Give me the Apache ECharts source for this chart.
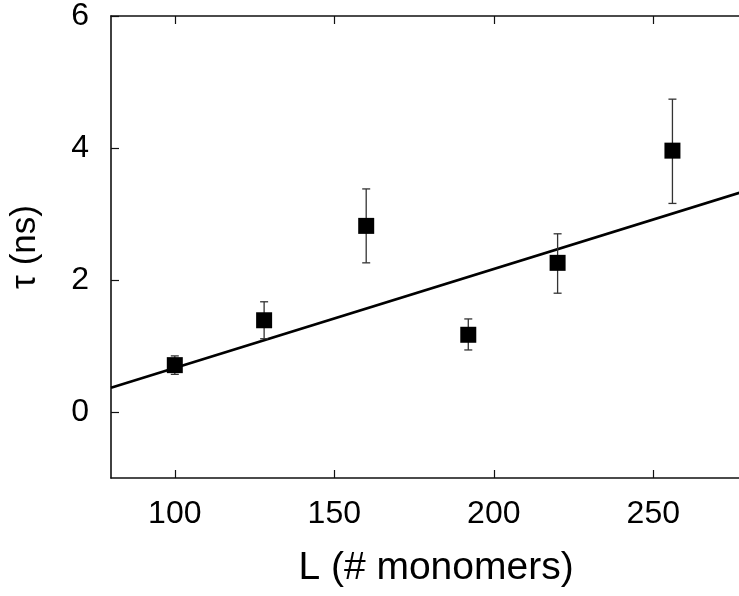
<!DOCTYPE html>
<html>
<head>
<meta charset="utf-8">
<script src="https://cdn.jsdelivr.net/npm/echarts@6/dist/echarts.min.js"></script>
<style>
html,body{margin:0;padding:0;background:#fff;overflow:hidden;width:739px;height:596px;}
#chart{width:749px;height:596px;}
</style>
</head>
<body>
<div id="chart"></div>
<script>
// Data
const L = [100, 128, 160, 192, 220, 256];
const tau = [0.71, 1.39, 2.82, 1.17, 2.26, 3.96];
const tauLow = [0.57, 1.11, 2.26, 0.94, 1.80, 3.16];
const tauHigh = [0.85, 1.67, 3.38, 1.41, 2.70, 4.74];
const fitL = [80, 280];
const fitTau = [0.366, 3.366];
const xTicks = [100, 150, 200, 250];
const yTicks = [0, 2, 4, 6];

const FONT = '"Liberation Sans", Arial, Helvetica, sans-serif';
const AX = '#111';

const points = L.map((x, i) => [x, tau[i]]);
const errs = L.map((x, i) => [x, tauLow[i], tauHigh[i]]);
const fit = fitL.map((x, i) => [x, fitTau[i]]);

const chart = echarts.init(document.getElementById('chart'), null, {renderer: 'canvas'});

function xAxisCfg(pos, showLabel) {
  return {
    type: 'value', position: pos, min: 80, max: 280,
    name: showLabel ? 'L (# monomers)' : '',
    nameLocation: 'middle', nameGap: 71,
    nameTextStyle: {fontFamily: FONT, fontSize: 39, color: '#000', padding: [0, 0, 0, 12]},
    axisLine: {show: true, onZero: false, lineStyle: {color: AX, width: 1.6}},
    axisTick: {show: true, inside: true, length: 8, customValues: xTicks, lineStyle: {color: AX, width: 1.2}},
    axisLabel: {show: showLabel, customValues: xTicks, margin: 20, fontFamily: FONT, fontSize: 32, color: '#000'},
    splitLine: {show: false}
  };
}
function yAxisCfg(pos, showLabel) {
  return {
    type: 'value', position: pos, min: -1, max: 6,
    name: showLabel ? 'τ (ns)' : '',
    nameLocation: 'middle', nameGap: 68, nameRotate: 90,
    nameTextStyle: {fontFamily: FONT, fontSize: 35, color: '#000'},
    axisLine: {show: true, onZero: false, lineStyle: {color: AX, width: 1.6}},
    axisTick: {show: true, inside: true, length: 8, customValues: yTicks, lineStyle: {color: AX, width: 1.2}},
    axisLabel: {show: showLabel, customValues: yTicks, margin: 22, fontFamily: FONT, fontSize: 32, color: '#000'},
    splitLine: {show: false}
  };
}

chart.setOption({
  animation: false,
  backgroundColor: '#fff',
  grid: {left: 109, top: 16, right: 0, bottom: 118, containLabel: false},
  xAxis: [xAxisCfg('bottom', true), xAxisCfg('top', false)],
  yAxis: [yAxisCfg('left', true), yAxisCfg('right', false)],
  series: [
    {
      type: 'line', data: fit, showSymbol: false, symbol: 'none',
      lineStyle: {color: '#000', width: 2.6}, z: 2, clip: true
    },
    {
      type: 'custom', z: 3, clip: true,
      data: errs,
      renderItem: function (params, api) {
        const x = api.value(0);
        const lo = api.coord([x, api.value(1)]);
        const hi = api.coord([x, api.value(2)]);
        const cap = 4;
        const style = {stroke: '#333', lineWidth: 1.3, fill: null};
        return {
          type: 'group',
          children: [
            {type: 'line', shape: {x1: lo[0], y1: lo[1], x2: hi[0], y2: hi[1]}, style: style},
            {type: 'line', shape: {x1: lo[0] - cap, y1: lo[1], x2: lo[0] + cap, y2: lo[1]}, style: style},
            {type: 'line', shape: {x1: hi[0] - cap, y1: hi[1], x2: hi[0] + cap, y2: hi[1]}, style: style}
          ]
        };
      }
    },
    {
      type: 'scatter', data: points, symbol: 'rect', symbolSize: 16,
      itemStyle: {color: '#000', opacity: 1}, z: 4
    }
  ]
});
</script>
</body>
</html>
